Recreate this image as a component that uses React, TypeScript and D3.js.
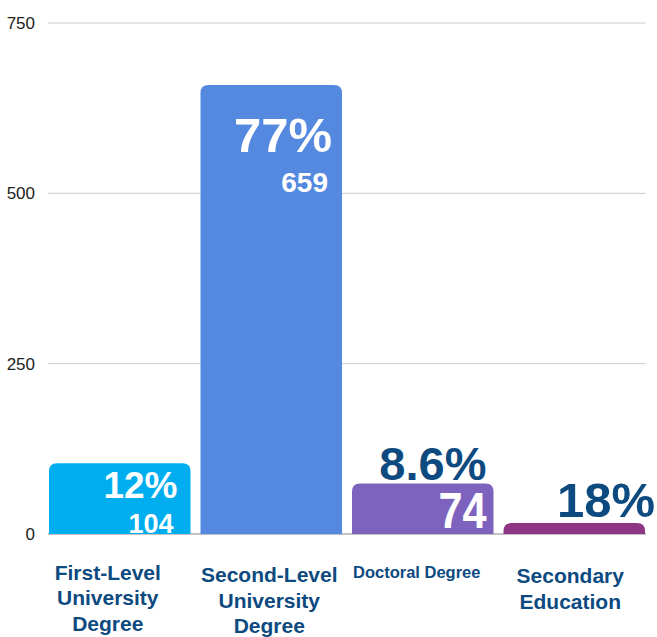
import React, { useEffect, useRef } from 'react';
import * as d3 from 'd3';

const categories = ['First-Level University Degree', 'Second-Level University Degree', 'Doctoral Degree', 'Secondary Education'];
const categoryLines = [['First-Level', 'University', 'Degree'], ['Second-Level', 'University', 'Degree'], ['Doctoral Degree'], ['Secondary', 'Education']];
const values = [104, 659, 74, 16];
const percentLabels = ['12%', '77%', '8.6%', '18%'];
const showValue = [true, true, true, false];
const yTicks = [0, 250, 500, 750];

const colors = ['#00aeef', '#5589e0', '#7e63be', '#8e3585'];
const darkBlue = '#0d4a80';

// label layout per bar: font sizes, offsets from bar top / right edge
const labelLayout = [
  { pctSize: 37, pctDy: 35, pctDx: -13, pctInside: true, valSize: 27, valDy: 70, valDx: -17, valLen: 0 },
  { pctSize: 49, pctDy: 67, pctDx: -10, pctInside: true, valSize: 28, valDy: 107, valDx: -14, valLen: 0 },
  { pctSize: 47, pctDy: -4, pctDx: -7, pctInside: false, valSize: 50, valDy: 44, valDx: -7, valLen: 48 },
  { pctSize: 49, pctDy: -6, pctDx: 10, pctInside: false, valSize: 0, valDy: 0, valDx: 0, valLen: 0 },
];
const catLayout = [
  { size: 21, y: 579.5, dx: -12 },
  { size: 21, y: 582, dx: -2 },
  { size: 16.5, y: 578, dx: -6 },
  { size: 21, y: 583, dx: -4 },
];

const W = 657, H = 637;
const font = '"Liberation Sans", Arial, sans-serif';

function App() {
  const ref = useRef<SVGSVGElement>(null);

  useEffect(() => {
    const svg = d3.select(ref.current);
    svg.selectAll('*').remove();

    const x = d3.scaleBand().domain(categories).range([44, 650]).paddingInner(0.066).paddingOuter(0.033);
    const y = d3.scaleLinear().domain([0, 750]).range([534, 23]);

    // gridlines
    svg.append('g').selectAll('line').data(yTicks).enter().append('line')
      .attr('x1', 48).attr('x2', 646)
      .attr('y1', (d) => y(d)).attr('y2', (d) => y(d))
      .attr('stroke', (d) => (d === 0 ? '#888' : '#ccc')).attr('stroke-width', 1);

    svg.append('g').selectAll('text').data(yTicks).enter().append('text')
      .attr('x', 35).attr('y', (d) => y(d) + 6)
      .attr('text-anchor', 'end')
      .style('font-family', font).style('font-size', '17px').attr('fill', '#222')
      .text((d) => d);

    const bw = x.bandwidth();
    const r = 8;
    const barPath = (d: number, i: number) => {
      const x0 = x(categories[i])!;
      const y0 = y(d), y1 = y(0);
      const rr = Math.min(r, (y1 - y0));
      return `M${x0},${y1}V${y0 + rr}Q${x0},${y0} ${x0 + rr},${y0}H${x0 + bw - rr}Q${x0 + bw},${y0} ${x0 + bw},${y0 + rr}V${y1}Z`;
    };

    svg.append('g').selectAll('path').data(values).enter().append('path')
      .attr('d', (d, i) => barPath(d, i))
      .attr('fill', (d, i) => colors[i]);

    const labels = svg.append('g');
    values.forEach((v, i) => {
      const L = labelLayout[i];
      const right = x(categories[i])! + bw;
      const top = y(v);
      labels.append('text')
        .attr('x', right + L.pctDx).attr('y', top + L.pctDy)
        .attr('text-anchor', 'end')
        .style('font-family', font).style('font-weight', 'bold').style('font-size', `${L.pctSize}px`)
        .attr('fill', L.pctInside ? '#fff' : darkBlue)
        .text(percentLabels[i]);
      if (showValue[i]) {
        const t = labels.append('text')
          .attr('x', right + L.valDx).attr('y', top + L.valDy)
          .attr('text-anchor', 'end')
          .style('font-family', font).style('font-weight', 'bold').style('font-size', `${L.valSize}px`)
          .attr('fill', '#fff')
          .text(v);
        if (L.valLen) t.attr('textLength', L.valLen).attr('lengthAdjust', 'spacingAndGlyphs');
      }
    });

    const cats = svg.append('g');
    categoryLines.forEach((lines, i) => {
      const C = catLayout[i];
      const cx = x(categories[i])! + bw / 2 + C.dx;
      lines.forEach((ln, j) => {
        cats.append('text')
          .attr('x', cx).attr('y', C.y + j * 25.5)
          .attr('text-anchor', 'middle')
          .style('font-family', font).style('font-weight', 'bold').style('font-size', `${C.size}px`)
          .attr('fill', darkBlue)
          .text(ln);
      });
    });
  }, []);

  return (
    <svg
      ref={ref}
      width={W}
      height={H}
      style={{ position: 'absolute', left: 0, top: 0, display: 'block', background: '#fff' }}
    />
  );
}

export default App;
